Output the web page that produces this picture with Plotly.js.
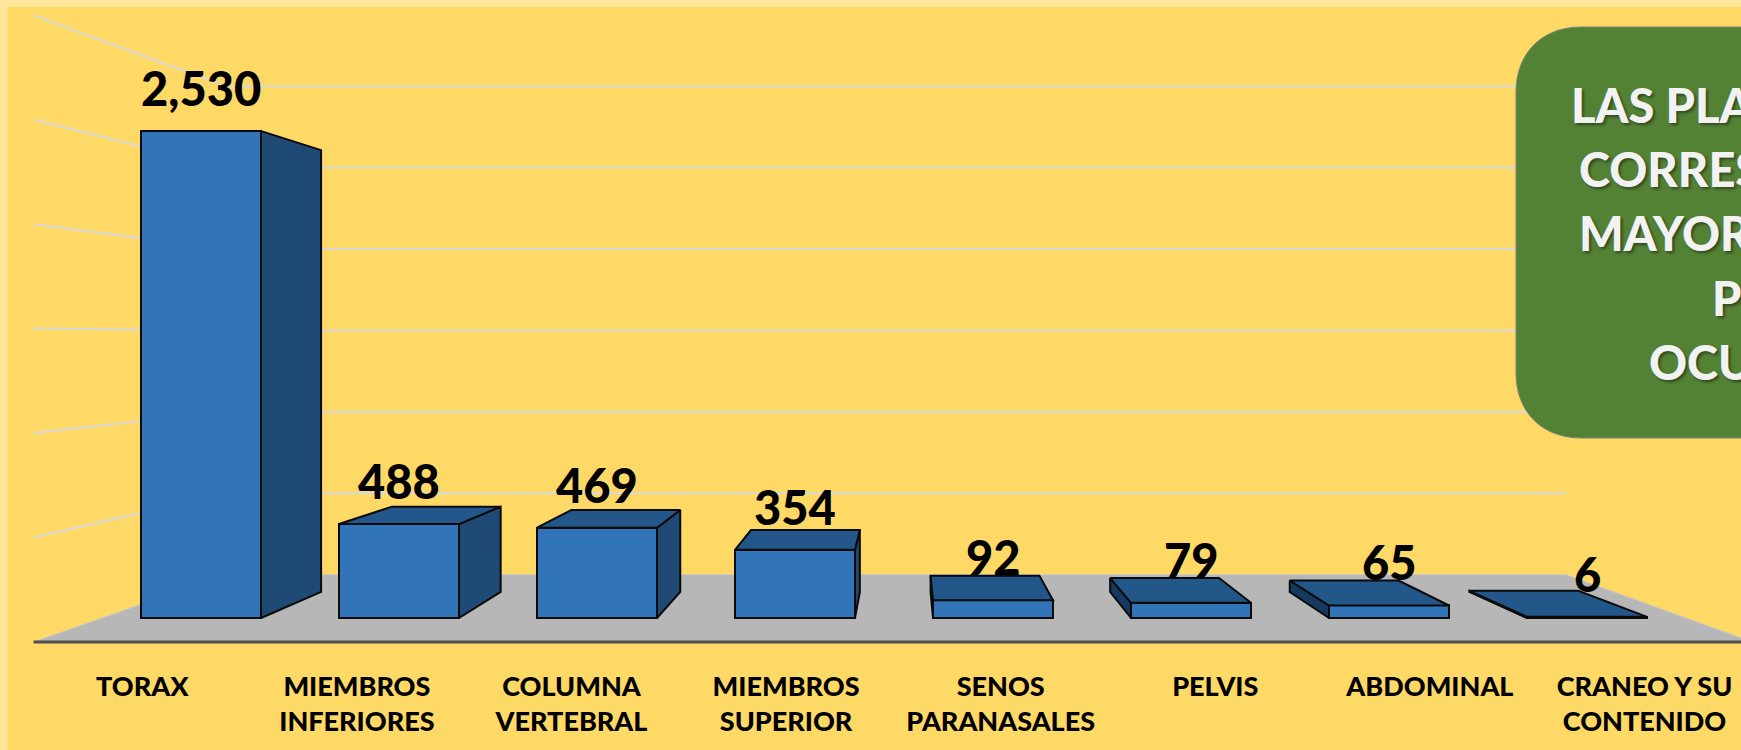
<!DOCTYPE html>
<html>
<head>
<meta charset="utf-8">
<script src="https://cdn.plot.ly/plotly-3.0.1.min.js"></script>
<style>html,body{margin:0;padding:0;background:#FFD966;overflow:hidden}#chart{width:1741px;height:750px}</style>
</head>
<body>
<div id="chart"></div>
<script>
// ---- data ----
const categories = ['TORAX','MIEMBROS<br>INFERIORES','COLUMNA<br>VERTEBRAL','MIEMBROS<br>SUPERIOR','SENOS<br>PARANASALES','PELVIS','ABDOMINAL','CRANEO Y SU<br>CONTENIDO'];
const values = [2530,488,469,354,92,79,65,6];
const gridValues = [500,1000,1500,2000,2500,3000];
const boxLines = ['LAS PLA','CORRES','MAYOR','P','OCU'];

// ---- page geometry ----
const W = 1741, H = 750, plotBottom = 650, basePx = 618;
const k = (basePx - 131) / 2530;           // pixels per unit
const xRange = [-201 / 198, (W - 201) / 198];
const yRange = [-(plotBottom - basePx) / k, basePx / k];
const barW = 120 / 198;
// perspective: vanishing point in data units, depth factors relative to the bar front plane
const Vx = (907 - 201) / 198, Vy = (basePx - 337) / k;
const sBack = 0.907, sWall = 0.846, sFloor = 1.085;
const xEdgeL = -0.5, xEdgeR = 7.5;
const px = (x, s) => Vx + s * (x - Vx);
const py = (y, s) => Vy + s * (y - Vy);

// ---- floor and walls as shapes under the bars ----
const polyPath = pts => 'M' + pts.map(p => p[0] + ',' + p[1]).join(' L') + ' Z';
const linePath = pts => 'M' + pts.map(p => p[0] + ',' + p[1]).join(' L');
const pY = p => (plotBottom - p) / plotBottom;
const shapes = [
  {type:'rect',xref:'paper',yref:'paper',x0:0,x1:1,y0:pY(7),y1:pY(0),fillcolor:'#FFE599',line:{width:0},layer:'below'},
  {type:'rect',xref:'paper',yref:'paper',x0:0,x1:7.5/W,y0:pY(H),y1:pY(0),fillcolor:'#FFE599',line:{width:0},layer:'below'}
];
shapes.push({type:'path',xref:'x',yref:'y',layer:'below',fillcolor:'#B7B7B7',line:{color:'#C8C8C8',width:1},
  path:polyPath([[px(xEdgeL,sFloor),py(0,sFloor)],[px(xEdgeL,sWall),py(0,sWall)],[px(xEdgeR,sWall),py(0,sWall)],[px(xEdgeR,sFloor),py(0,sFloor)]])});
shapes.push({type:'path',xref:'x',yref:'y',layer:'below',line:{color:'#4F4F4F',width:3},
  path:linePath([[px(xEdgeL,sFloor),py(0,sFloor)],[px(xEdgeR,sFloor),py(0,sFloor)]])});
gridValues.forEach(v => shapes.push({type:'path',xref:'x',yref:'y',layer:'below',line:{color:'#D9D9D9',width:2},
  path:linePath([[px(xEdgeL,sFloor),py(v,sFloor)],[px(xEdgeL,sWall),py(v,sWall)],[px(xEdgeR,sWall),py(v,sWall)]])}));
// rounded green note, running off the right edge of the page
const bx0=1516/W, bx1=1.1, by1=pY(27), by0=pY(438), rx=65/W, ry=65/plotBottom;
shapes.push({type:'path',xref:'paper',yref:'paper',layer:'above',fillcolor:'#548235',line:{color:'#7F7F7F',width:1},
  path:`M${bx0},${by0+ry} L${bx0},${by1-ry} C${bx0},${by1-ry*0.4} ${bx0+rx*0.4},${by1} ${bx0+rx},${by1} L${bx1},${by1} L${bx1},${by0} L${bx0+rx},${by0} C${bx0+rx*0.4},${by0} ${bx0},${by0+ry*0.4} ${bx0},${by0+ry} Z`});

// ---- 3D faces computed from the values ----
const idx = values.map((_, i) => i);
const faceRight = {x:[],y:[]}, faceLeft = {x:[],y:[]}, faceTop = {x:[],y:[]};
const addFace = (f, pts) => { pts.forEach(p => {f.x.push(p[0]); f.y.push(p[1]);}); f.x.push(pts[0][0],null); f.y.push(pts[0][1],null); };
idx.forEach(i => {
  const xl = i - barW/2, xr = i + barW/2, v = values[i];
  if (xr < Vx) addFace(faceRight, [[xr,0],[xr,v],[px(xr,sBack),py(v,sBack)],[px(xr,sBack),py(0,sBack)]]);
  if (xl > Vx) addFace(faceLeft,  [[xl,0],[xl,v],[px(xl,sBack),py(v,sBack)],[px(xl,sBack),py(0,sBack)]]);
  if (v < Vy)  addFace(faceTop, [[xl,v],[xr,v],[px(xr,sBack),py(v,sBack)],[px(xl,sBack),py(v,sBack)]]);
});
const face = (f, color) => ({type:'scatter',mode:'lines',x:f.x,y:f.y,fill:'toself',fillcolor:color,
  line:{color:'#0A0A0A',width:2},hoverinfo:'skip',connectgaps:false});

const traces = [
  {type:'bar',x:idx,y:values,width:barW,marker:{color:'#3175B8',line:{color:'#0A0A0A',width:2}},hoverinfo:'x+y'},
  face(faceRight,'#1F4A75'), face(faceLeft,'#163A5F'), face(faceTop,'#235689'),
  {type:'scatter',mode:'markers',x:categories,y:values,xaxis:'x2',yaxis:'y',marker:{opacity:0},hoverinfo:'skip'}
];

// ---- text ----
const annotations = idx.map(i => ({xref:'x',yref:'y',x:i,y:values[i],yshift:43,showarrow:false,xanchor:'center',yanchor:'middle',
  text:values[i].toLocaleString('en-US'),font:{family:'Lato',size:47,color:'#000',weight:900}}));
const boxX = [1571,1579,1579,1712,1649], boxY = [105,169,233,298,362];
boxLines.forEach((t,i) => annotations.push({xref:'paper',yref:'paper',x:boxX[i]/W,y:pY(boxY[i]),showarrow:false,xanchor:'left',yanchor:'middle',xshift:-2,
  text:t,font:{family:'Lato',size:47,color:'#F2F2F2',weight:900,shadow:'2px 2px 3px rgba(0,0,0,0.45)'}}));

const layout = {
  width:W,height:H,margin:{l:0,r:0,t:0,b:H-plotBottom,pad:0},autosize:false,
  paper_bgcolor:'#FFD966',plot_bgcolor:'rgba(0,0,0,0)',showlegend:false,bargap:0,
  xaxis:{type:'linear',range:xRange,showgrid:false,zeroline:false,showline:false,ticks:'',showticklabels:false},
  xaxis2:{type:'category',overlaying:'x',anchor:'y',side:'bottom',categoryorder:'array',categoryarray:categories,
    range:[-142.3/214.6,(W-142.3)/214.6],showgrid:false,zeroline:false,showline:false,ticks:'',tickangle:0,
    ticklabelstandoff:18,tickfont:{family:'Lato',size:27,color:'#000',weight:900}},
  yaxis:{type:'linear',range:yRange,showgrid:false,zeroline:false,showline:false,ticks:'',showticklabels:false},
  shapes,annotations
};
Plotly.newPlot('chart',traces,layout,{displayModeBar:false,responsive:false});
</script>
</body>
</html>
